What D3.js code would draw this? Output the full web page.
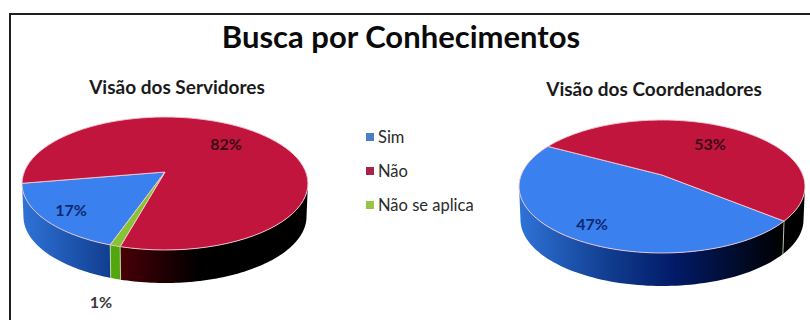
<!DOCTYPE html>
<html lang="pt">
<head>
<meta charset="utf-8">
<title>Busca por Conhecimentos</title>
<script src="https://cdnjs.cloudflare.com/ajax/libs/d3/7.8.5/d3.min.js"></script>
<style>
  html, body { margin: 0; padding: 0; background: #fff; }
  svg { display: block; }
  text { font-family: Lato, "Open Sans", sans-serif; }
</style>
</head>
<body>
<svg id="chart" width="810" height="320"></svg>
<script>
// Values for the two pies
const categories = ["Sim", "Não", "Não se aplica"];
const servidoresValues = [17, 82, 1];
const coordenadoresValues = [47, 53, 0];
const chartTitle = "Busca por Conhecimentos";
const servidoresTitle = "Visão dos Servidores";
const coordenadoresTitle = "Visão dos Coordenadores";

const faceColors = ["#3a80ee", "#c1153d", "#86c434"];
const sideStops = [
  [["0%", "#2f74d8"], ["30%", "#123f92"], ["55%", "#021a66"], ["92%", "#000000"]],
  [["0%", "#7a0010"], ["33%", "#4c0006"], ["62%", "#000000"], ["100%", "#000000"]],
  [["0%", "#5cb510"], ["100%", "#3f8a08"]]
];

const svg = d3.select("#chart");
const defs = svg.append("defs");

// Perspective disc: unit-circle coordinates are projected with a tilt
const tilt = 0.173;
const radiusX = 140.8;
const radiusY = 64.5;
const depth = 33;

function project(cx, cy, angle, drop) {
  const u = Math.sin(angle), v = -Math.cos(angle);
  const w = 1 - tilt * v;
  const shrink = drop ? 0.99 : 1;
  return [cx + shrink * radiusX * u / w, cy + radiusY * v / w + drop];
}

const pathLine = d3.line();

function drawPie(id, values, cx, cy, startDeg) {
  const startAngle = startDeg * Math.PI / 180;
  const pie = d3.pie().sort(null)
    .startAngle(startAngle)
    .endAngle(startAngle + 2 * Math.PI);
  const slices = pie(values);
  const group = svg.append("g").attr("class", id);

  sideStops.forEach((stops, i) => {
    const gradient = defs.append("linearGradient")
      .attr("id", `${id}-side-${i}`)
      .attr("gradientUnits", "userSpaceOnUse")
      .attr("x1", cx - radiusX * 1.02).attr("x2", cx + radiusX * 1.02)
      .attr("y1", 0).attr("y2", 0);
    stops.forEach(([offset, color]) => gradient.append("stop")
      .attr("offset", offset).attr("stop-color", color));
  });

  const sample = (a0, a1) => d3.range(0, 81).map(i => a0 + (a1 - a0) * i / 80);

  // Outer wall, between the two widest points of the rim
  const frontFrom = Math.PI / 2 + Math.asin(tilt);
  const frontTo = 3 * Math.PI / 2 - Math.asin(tilt);
  slices.forEach(d => {
    if (d.value === 0) return;
    for (const shift of [-2 * Math.PI, 0, 2 * Math.PI]) {
      const a0 = Math.max(d.startAngle + shift, frontFrom);
      const a1 = Math.min(d.endAngle + shift, frontTo);
      if (a1 <= a0) continue;
      const angles = sample(a0, a1);
      const outline = angles.map(a => project(cx, cy, a, 0))
        .concat(angles.slice().reverse().map(a => project(cx, cy, a, depth)));
      group.append("path")
        .attr("d", pathLine(outline) + "Z")
        .attr("fill", `url(#${id}-side-${d.index})`);
    }
  });

  // Pale seams where the slices meet on the wall
  slices.forEach(d => {
    if (d.value === 0) return;
    const a = d.startAngle % (2 * Math.PI);
    if (a <= frontFrom || a >= frontTo) return;
    group.append("path")
      .attr("d", pathLine([project(cx, cy, a, 0), project(cx, cy, a, depth)]))
      .attr("stroke", "#cfe3c8").attr("stroke-width", 0.8).attr("fill", "none");
  });

  // Top faces
  slices.forEach(d => {
    if (d.value === 0) return;
    const outline = [[cx, cy]]
      .concat(sample(d.startAngle, d.endAngle).map(a => project(cx, cy, a, 0)));
    group.append("path")
      .attr("d", pathLine(outline) + "Z")
      .attr("fill", faceColors[d.index])
      .attr("stroke", "#f3c9d4").attr("stroke-width", 0.9)
      .attr("stroke-linejoin", "round");
  });
}

// Frame: top and left rules only, running off the page
svg.append("path").attr("d", "M10,320V14H810")
  .attr("fill", "none").attr("stroke", "#231f20").attr("stroke-width", 2);

drawPie("servidores", servidoresValues, 165, 172, 199);
drawPie("coordenadores", coordenadoresValues, 662, 175, 129.5);

// Titles
svg.append("text").attr("x", 401).attr("y", 48).attr("text-anchor", "middle")
  .attr("font-size", 31).attr("font-weight", 700).attr("fill", "#0a0a0a").text(chartTitle);
svg.append("text").attr("x", 177).attr("y", 94).attr("text-anchor", "middle")
  .attr("font-size", 19).attr("font-weight", 700).attr("fill", "#1a1a1a").text(servidoresTitle);
svg.append("text").attr("x", 654).attr("y", 96).attr("text-anchor", "middle")
  .attr("font-size", 19).attr("font-weight", 700).attr("fill", "#1a1a1a").text(coordenadoresTitle);

// Percentage labels, worded from the values
const pct = v => `${v}%`;
const labels = [
  [servidoresValues[1], 226, 150, "#3a0a14"],
  [servidoresValues[0], 71, 216, "#0c2a70"],
  [servidoresValues[2], 101, 308, "#3a3a3a"],
  [coordenadoresValues[1], 710, 150, "#3a0a14"],
  [coordenadoresValues[0], 592, 230, "#0c2a70"]
];
svg.selectAll("text.pct").data(labels).join("text")
  .attr("class", "pct")
  .attr("x", d => d[1]).attr("y", d => d[2])
  .attr("text-anchor", "middle")
  .attr("font-size", 16).attr("font-weight", 700)
  .attr("fill", d => d[3])
  .text(d => pct(d[0]));

// Legend
const legendY = d3.scalePoint().domain(categories).range([137, 205]);
const legendColors = ["#4a7ec8", "#a8234a", "#98c44a"];
const legend = svg.selectAll("g.legend").data(categories).join("g")
  .attr("class", "legend")
  .attr("transform", d => `translate(366,${legendY(d)})`);
legend.append("rect").attr("x", 0).attr("y", -4).attr("width", 8).attr("height", 8)
  .attr("fill", (d, i) => legendColors[i]);
legend.append("text").attr("x", 12).attr("y", 5.5)
  .attr("font-size", 16.5).attr("fill", "#2a2a2a").text(d => d);
</script>
</body>
</html>
